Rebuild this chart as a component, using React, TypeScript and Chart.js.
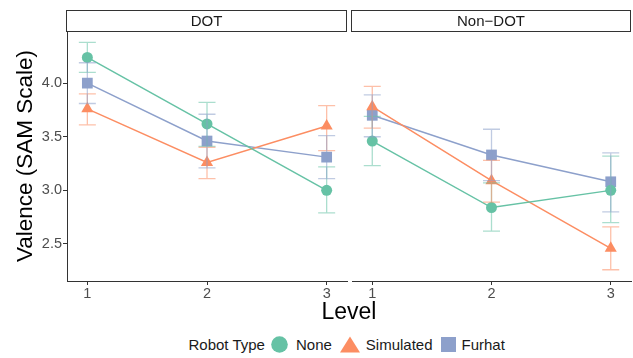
import React, { useEffect, useRef } from 'react';
import { Chart, registerables } from 'chart.js';

Chart.register(...registerables);

const FONT = "'Liberation Sans', Arial, Helvetica, sans-serif";

// ---- data ----
const levels = [1, 2, 3];
const seriesNames = ['None', 'Simulated', 'Furhat'];
const panelTitles = ['DOT', 'Non\u2212DOT'];
const yTickValues = [2.5, 3.0, 3.5, 4.0];

// DOT panel
const dotNoneMean = [4.24, 3.62, 3.0];
const dotNoneLo = [4.1, 3.41, 2.79];
const dotNoneHi = [4.38, 3.82, 3.22];
const dotSimMean = [3.76, 3.26, 3.6];
const dotSimLo = [3.61, 3.11, 3.37];
const dotSimHi = [3.9, 3.4, 3.79];
const dotFurMean = [4.0, 3.46, 3.31];
const dotFurLo = [3.81, 3.21, 3.11];
const dotFurHi = [4.19, 3.71, 3.51];

// Non-DOT panel
const nonNoneMean = [3.46, 2.84, 3.0];
const nonNoneLo = [3.23, 2.62, 2.7];
const nonNoneHi = [3.69, 3.07, 3.32];
const nonSimMean = [3.78, 3.09, 2.46];
const nonSimLo = [3.58, 2.89, 2.26];
const nonSimHi = [3.97, 3.28, 2.66];
const nonFurMean = [3.7, 3.33, 3.08];
const nonFurLo = [3.5, 3.09, 2.8];
const nonFurHi = [3.89, 3.57, 3.35];

// ---- styles ----
const colors = ['#66C2A5', '#FC8D62', '#8DA0CB'];
const errColors = ['rgba(102,194,165,0.55)', 'rgba(252,141,98,0.55)', 'rgba(141,160,203,0.55)'];
const pointStyles = ['circle', 'triangle', 'rect'];
const pointRadii = [5.5, 7, 7.6];

const Y_MIN = 2.155;
const Y_MAX = 4.486;
const X_MIN = 0.83;
const X_MAX = 3.17;
const CANVAS_H = 300;
const PLOT_BOTTOM = 281;
const PLOT_TOP = 31;

const errorBarPlugin = {
  id: 'errorBars',
  afterDatasetsDraw(chart: any) {
    const { ctx } = chart;
    const x = chart.scales.x;
    const y = chart.scales.y;
    chart.data.datasets.forEach((ds: any, i: number) => {
      const meta = chart.getDatasetMeta(i);
      if (meta.hidden) return;
      ctx.save();
      ctx.strokeStyle = ds.errColor;
      ctx.lineWidth = 1.3;
      ctx.beginPath();
      ds.data.forEach((pt: any, j: number) => {
        const px = x.getPixelForValue(pt.x);
        const yl = y.getPixelForValue(ds.errLo[j]);
        const yh = y.getPixelForValue(ds.errHi[j]);
        ctx.moveTo(px, yl);
        ctx.lineTo(px, yh);
        ctx.moveTo(px - 8.5, yl);
        ctx.lineTo(px + 8.5, yl);
        ctx.moveTo(px - 8.5, yh);
        ctx.lineTo(px + 8.5, yh);
      });
      ctx.stroke();
      ctx.restore();
    });
  },
};

const stripPlugin = {
  id: 'strip',
  afterDraw(chart: any, _args: any, opts: any) {
    const { ctx, chartArea } = chart;
    const left = Math.round(chartArea.left) - 0.5;
    const right = Math.round(chartArea.right) - 0.5;
    ctx.save();
    ctx.fillStyle = '#ffffff';
    ctx.strokeStyle = '#333333';
    ctx.lineWidth = 1;
    ctx.fillRect(left, 10.5, right - left, 21);
    ctx.strokeRect(left, 10.5, right - left, 21);
    ctx.fillStyle = '#1a1a1a';
    ctx.font = `15px ${FONT}`;
    ctx.textAlign = 'center';
    ctx.textBaseline = 'middle';
    ctx.fillText(opts.text, (left + right) / 2, 21.5);
    ctx.restore();
  },
};

type PanelProps = {
  title: string;
  means: number[][];
  los: number[][];
  his: number[][];
  showY: boolean;
  width: number;
  padLeft: number;
  padRight: number;
  yAxisWidth: number;
};

function Panel(props: PanelProps) {
  const ref = useRef<HTMLCanvasElement | null>(null);
  useEffect(() => {
    if (!ref.current) return;
    const datasets = seriesNames.map((name, i) => ({
      label: name,
      data: levels.map((lv, j) => ({ x: lv, y: props.means[i][j] })),
      errLo: props.los[i],
      errHi: props.his[i],
      errColor: errColors[i],
      borderColor: colors[i],
      backgroundColor: colors[i],
      pointBackgroundColor: colors[i],
      pointBorderColor: colors[i],
      pointBorderWidth: 0,
      pointStyle: pointStyles[i],
      pointRadius: pointRadii[i],
      borderWidth: 1.5,
      showLine: true,
      tension: 0,
    }));
    const chart = new Chart(ref.current, {
      type: 'scatter',
      data: { datasets: datasets as any },
      plugins: [errorBarPlugin, stripPlugin],
      options: {
        animation: false,
        responsive: false,
        maintainAspectRatio: false,
        layout: {
          autoPadding: false,
          padding: { top: PLOT_TOP, left: props.padLeft, right: props.padRight, bottom: 0 },
        },
        plugins: {
          legend: { display: false },
          tooltip: { enabled: false },
          title: { display: false },
          strip: { text: props.title },
        } as any,
        scales: {
          x: {
            type: 'linear',
            min: X_MIN,
            max: X_MAX,
            afterBuildTicks: (s: any) => {
              s.ticks = levels.map((v) => ({ value: v }));
            },
            afterFit: (s: any) => {
              s.height = CANVAS_H - PLOT_BOTTOM;
            },
            ticks: {
              color: '#4d4d4d',
              font: { size: 14.5, family: FONT },
              padding: 0,
              maxRotation: 0,
              callback: (v: any) => String(v),
            },
            grid: { drawOnChartArea: false, drawTicks: true, tickLength: 4, color: '#333333', lineWidth: 1 },
            border: { display: true, color: '#333333', width: 1 },
          },
          y: {
            type: 'linear',
            min: Y_MIN,
            max: Y_MAX,
            display: props.showY,
            afterBuildTicks: (s: any) => {
              s.ticks = yTickValues.map((v) => ({ value: v }));
            },
            afterFit: (s: any) => {
              s.width = props.showY ? props.yAxisWidth : 0;
            },
            ticks: {
              color: '#4d4d4d',
              font: { size: 14.5, family: FONT },
              padding: 1,
              callback: (v: any) => Number(v).toFixed(1),
            },
            grid: { drawOnChartArea: false, drawTicks: true, tickLength: 4, color: '#333333', lineWidth: 1 },
            border: { display: true, color: '#333333', width: 1 },
            title: {
              display: true,
              text: 'Valence (SAM Scale)',
              color: '#000000',
              font: { size: 22.5, family: FONT },
              padding: { top: 12, bottom: 0 },
            },
          },
        },
      } as any,
    });
    return () => chart.destroy();
  }, []);
  return <canvas ref={ref} width={props.width} height={CANVAS_H} style={{ display: 'block', width: props.width, height: CANVAS_H }} />;
}

function Marker({ i }: { i: number }) {
  const c = colors[i];
  if (pointStyles[i] === 'circle') {
    return (
      <svg width="17" height="17" style={{ display: 'block' }}>
        <circle cx="8.5" cy="8.5" r="8.3" fill={c} />
      </svg>
    );
  }
  if (pointStyles[i] === 'triangle') {
    return (
      <svg width="20" height="17" style={{ display: 'block' }}>
        <polygon points="10,0.5 20,16.5 0,16.5" fill={c} />
      </svg>
    );
  }
  return (
    <svg width="15" height="15" style={{ display: 'block' }}>
      <rect x="0" y="0" width="15" height="15" fill={c} />
    </svg>
  );
}

export default function App() {
  return (
    <div style={{ position: 'fixed', left: 0, top: 0, width: 633, height: 358, background: '#fff', fontFamily: FONT, overflow: 'hidden' }}>
      <div style={{ position: 'absolute', left: 0, top: 0 }}>
        <Panel
          title={panelTitles[0]}
          means={[dotNoneMean, dotSimMean, dotFurMean]}
          los={[dotNoneLo, dotSimLo, dotFurLo]}
          his={[dotNoneHi, dotSimHi, dotFurHi]}
          showY={true}
          width={350}
          padLeft={0}
          padRight={3}
          yAxisWidth={67}
        />
      </div>
      <div style={{ position: 'absolute', left: 350, top: 0 }}>
        <Panel
          title={panelTitles[1]}
          means={[nonNoneMean, nonSimMean, nonFurMean]}
          los={[nonNoneLo, nonSimLo, nonFurLo]}
          his={[nonNoneHi, nonSimHi, nonFurHi]}
          showY={false}
          width={283}
          padLeft={2}
          padRight={2}
          yAxisWidth={0}
        />
      </div>
      <div
        style={{
          position: 'absolute',
          left: 67,
          width: 564,
          top: 299.5,
          textAlign: 'center',
          fontSize: 23,
          lineHeight: '23px',
          color: '#000',
        }}
      >
        Level
      </div>
      <div
        style={{
          position: 'absolute',
          left: 188.5,
          top: 334,
          height: 20,
          display: 'flex',
          alignItems: 'center',
          fontSize: 15,
          color: '#1a1a1a',
          whiteSpace: 'nowrap',
        }}
      >
        <span style={{ marginRight: 6 }}>Robot Type</span>
        {seriesNames.map((name, i) => (
          <React.Fragment key={name}>
            <span style={{ marginLeft: i === 0 ? 0 : 5 }}>
              <Marker i={i} />
            </span>
            <span style={{ marginLeft: i === 0 ? 8 : 6, marginRight: 3 }}>{name}</span>
          </React.Fragment>
        ))}
      </div>
    </div>
  );
}
